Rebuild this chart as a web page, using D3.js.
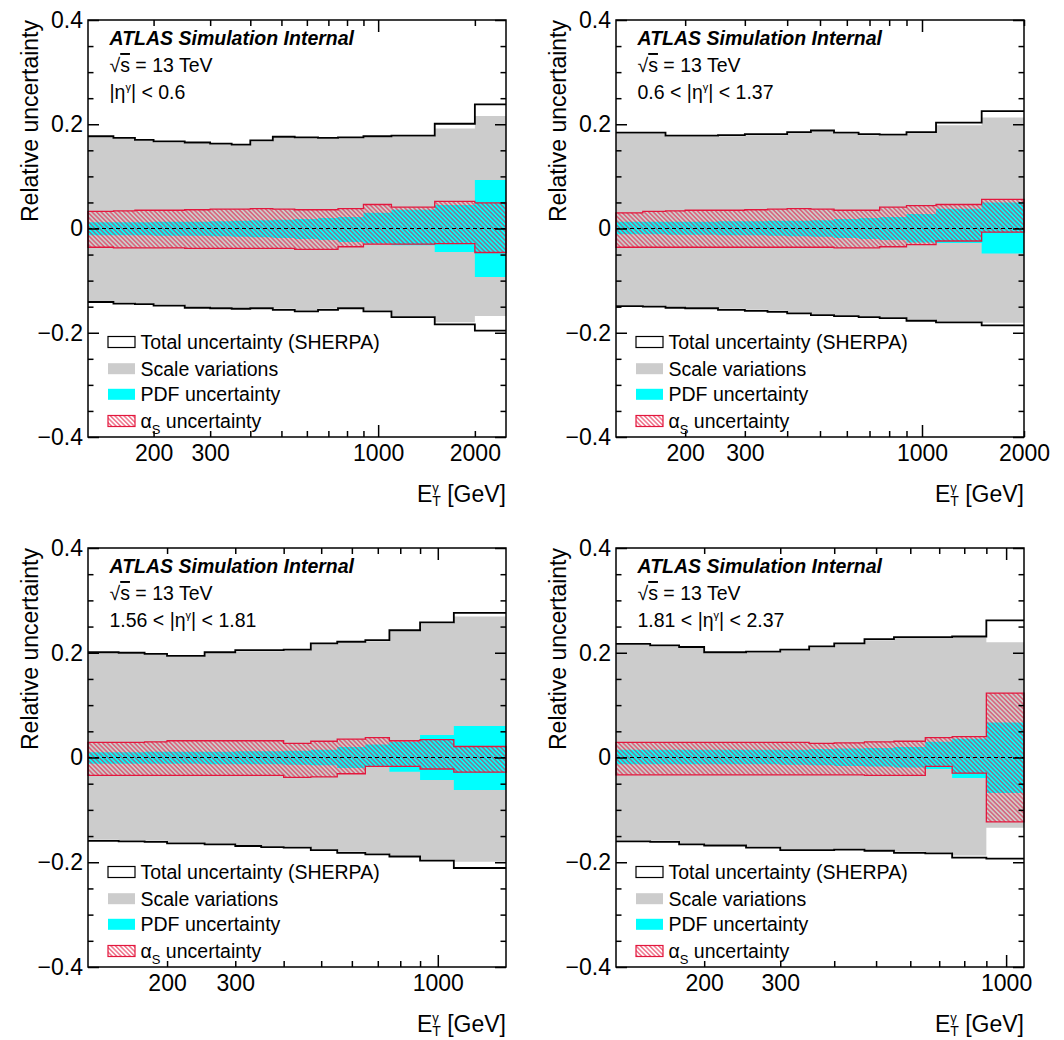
<!DOCTYPE html>
<html>
<head>
<meta charset="utf-8">
<script src="https://cdn.jsdelivr.net/npm/d3@7"></script>
<style>
body { margin:0; background:#ffffff; }
text { font-family:"Liberation Sans", Arial, Helvetica, sans-serif; fill:#000; }
</style>
</head>
<body>
<svg id="chart" width="1064" height="1040"></svg>
<script>
// E_T bin edges [GeV] for each eta region
var edgesA = [125,150,175,200,250,300,350,400,470,550,650,750,900,1100,1500,2000,2500];
var edgesB = [125,150,175,200,250,300,350,400,470,550,650,750,900,1100,1500,2000];
var edgesC = [125,150,175,200,250,300,350,400,470,550,650,750,900,1100,1500];
var edgesD = [125,150,175,200,250,300,350,400,470,550,650,750,900,1100];

// |eta| < 0.6
var totUpA   = [0.177,0.174,0.170,0.167,0.165,0.163,0.161,0.169,0.176,0.175,0.174,0.175,0.177,0.178,0.201,0.238];
var totDnA   = [-0.141,-0.144,-0.145,-0.148,-0.152,-0.153,-0.154,-0.153,-0.156,-0.159,-0.156,-0.153,-0.159,-0.170,-0.184,-0.196];
var scaleUpA = [0.175,0.172,0.168,0.165,0.163,0.161,0.159,0.167,0.174,0.173,0.172,0.173,0.175,0.176,0.192,0.216];
var scaleDnA = [-0.139,-0.142,-0.143,-0.146,-0.150,-0.151,-0.152,-0.151,-0.154,-0.157,-0.154,-0.151,-0.157,-0.168,-0.180,-0.168];
var pdfUpA   = [0.012,0.012,0.012,0.013,0.013,0.014,0.015,0.016,0.017,0.018,0.020,0.022,0.030,0.036,0.045,0.093];
var pdfDnA   = [-0.013,-0.013,-0.013,-0.014,-0.014,-0.015,-0.016,-0.017,-0.018,-0.020,-0.022,-0.026,-0.029,-0.032,-0.045,-0.093];
var asUpA    = [0.033,0.034,0.035,0.035,0.036,0.037,0.037,0.038,0.037,0.036,0.036,0.038,0.046,0.041,0.052,0.049];
var asDnA    = [-0.036,-0.037,-0.037,-0.037,-0.038,-0.038,-0.038,-0.038,-0.038,-0.040,-0.040,-0.035,-0.030,-0.030,-0.029,-0.046];

// 0.6 < |eta| < 1.37
var totUpB   = [0.184,0.184,0.178,0.178,0.179,0.181,0.181,0.185,0.188,0.184,0.181,0.180,0.185,0.203,0.225];
var totDnB   = [-0.149,-0.150,-0.152,-0.153,-0.156,-0.158,-0.160,-0.163,-0.166,-0.168,-0.170,-0.172,-0.177,-0.180,-0.186];
var scaleUpB = [0.182,0.182,0.176,0.176,0.177,0.179,0.179,0.183,0.186,0.182,0.179,0.178,0.183,0.198,0.213];
var scaleDnB = [-0.147,-0.148,-0.150,-0.151,-0.154,-0.156,-0.158,-0.161,-0.164,-0.166,-0.168,-0.170,-0.175,-0.178,-0.181];
var pdfUpB   = [0.013,0.013,0.013,0.013,0.014,0.014,0.015,0.015,0.016,0.018,0.020,0.022,0.028,0.038,0.050];
var pdfDnB   = [-0.011,-0.011,-0.012,-0.012,-0.013,-0.013,-0.014,-0.015,-0.016,-0.018,-0.020,-0.022,-0.027,-0.028,-0.048];
var asUpB    = [0.030,0.033,0.034,0.035,0.035,0.036,0.037,0.038,0.037,0.035,0.035,0.041,0.044,0.046,0.056];
var asDnB    = [-0.036,-0.036,-0.036,-0.036,-0.036,-0.036,-0.036,-0.036,-0.036,-0.037,-0.037,-0.035,-0.031,-0.024,-0.007];

// 1.56 < |eta| < 1.81
var totUpC   = [0.201,0.200,0.198,0.194,0.201,0.205,0.205,0.206,0.218,0.221,0.224,0.243,0.258,0.276];
var totDnC   = [-0.159,-0.160,-0.161,-0.164,-0.166,-0.169,-0.171,-0.172,-0.177,-0.182,-0.185,-0.189,-0.197,-0.211];
var scaleUpC = [0.199,0.198,0.196,0.192,0.199,0.203,0.203,0.204,0.216,0.219,0.222,0.241,0.256,0.269];
var scaleDnC = [-0.157,-0.158,-0.159,-0.162,-0.164,-0.167,-0.169,-0.170,-0.175,-0.180,-0.183,-0.187,-0.195,-0.199];
var pdfUpC   = [0.010,0.010,0.011,0.011,0.011,0.012,0.012,0.013,0.015,0.020,0.025,0.030,0.043,0.060];
var pdfDnC   = [-0.012,-0.012,-0.012,-0.012,-0.013,-0.013,-0.013,-0.014,-0.015,-0.020,-0.018,-0.027,-0.043,-0.062];
var asUpC    = [0.029,0.029,0.030,0.032,0.032,0.032,0.032,0.027,0.031,0.035,0.038,0.032,0.034,0.021];
var asDnC    = [-0.034,-0.034,-0.034,-0.034,-0.034,-0.034,-0.034,-0.038,-0.037,-0.031,-0.017,-0.017,-0.022,-0.028];

// 1.81 < |eta| < 2.37
var totUpD   = [0.217,0.214,0.211,0.201,0.202,0.206,0.212,0.218,0.226,0.230,0.230,0.231,0.262];
var totDnD   = [-0.160,-0.161,-0.166,-0.168,-0.172,-0.177,-0.177,-0.176,-0.178,-0.182,-0.183,-0.191,-0.193];
var scaleUpD = [0.215,0.212,0.209,0.199,0.200,0.204,0.210,0.216,0.224,0.228,0.228,0.229,0.220];
var scaleDnD = [-0.158,-0.159,-0.164,-0.166,-0.170,-0.175,-0.175,-0.174,-0.176,-0.180,-0.181,-0.187,-0.134];
var pdfUpD   = [0.015,0.015,0.015,0.015,0.015,0.015,0.016,0.017,0.018,0.020,0.030,0.036,0.067];
var pdfDnD   = [-0.013,-0.013,-0.013,-0.013,-0.013,-0.014,-0.015,-0.016,-0.017,-0.019,-0.022,-0.039,-0.068];
var asUpD    = [0.029,0.029,0.029,0.029,0.029,0.029,0.027,0.028,0.030,0.031,0.038,0.040,0.123];
var asDnD    = [-0.033,-0.033,-0.033,-0.033,-0.033,-0.033,-0.033,-0.033,-0.034,-0.034,-0.017,-0.030,-0.123];

// axis ticks and labels
var xLabelsWide   = [200,300,1000,2000];
var xLabelsNarrow = [200,300,1000];
var xMinorWide    = [200,300,400,500,600,700,800,900,2000];
var xMinorNarrow  = [200,300,400,500,600,700,800,900];
var xMajor        = [1000];
var yMajor        = [-0.4,-0.2,0,0.2,0.4];
var yMinor        = [-0.35,-0.3,-0.25,-0.15,-0.1,-0.05,0.05,0.1,0.15,0.25,0.3,0.35];

var etaLow  = ["", "0.6 < ", "1.56 < ", "1.81 < "];
var etaHigh = [" < 0.6", " < 1.37", " < 1.81", " < 2.37"];
var legendNames = ["Total uncertainty (SHERPA)", "Scale variations", "PDF uncertainty", "uncertainty"];

var GREY = "#cccccc", CYAN = "#00ffff", RED = "#e3173d";

var svg = d3.select("#chart");

// hatch for the alpha_s band
svg.append("defs").append("pattern")
    .attr("id","hatch")
    .attr("patternUnits","userSpaceOnUse")
    .attr("width",3.2)
    .attr("height",3.2)
    .attr("patternTransform","rotate(45)")
  .append("line")
    .attr("x1",0).attr("x2",3.2)
    .attr("y1",1.6).attr("y2",1.6)
    .attr("stroke",RED)
    .attr("stroke-width",0.9);

//turn bin values into step points (two per bin)
var stepPoints = function(edges,lo,hi)
{
    var pts = [];
    for (var i = 0; i < lo.length; i++)
    {
        pts.push({e:edges[i],lo:lo[i],hi:hi[i]});
        pts.push({e:edges[i+1],lo:lo[i],hi:hi[i]});
    }
    return pts;
}

var fmtY = function(v)
{
    if (v == 0) return "0";
    return (v < 0 ? "\u2212" : "") + Math.abs(v).toFixed(1);
}

var drawPanel = function(p,idx)
{
    var box = p.box;
    var xScale = d3.scaleLog()
        .domain([p.edges[0], p.edges[p.edges.length-1]])
        .range([box.left, box.right]);
    var yScale = d3.scaleLinear()
        .domain([-0.4,0.4])
        .range([box.bottom, box.top]);

    var g = svg.append("g");

    var area = d3.area()
        .x(function(d){ return xScale(d.e); })
        .y0(function(d){ return yScale(d.lo); })
        .y1(function(d){ return yScale(d.hi); });
    var lineUp = d3.line()
        .x(function(d){ return xScale(d.e); })
        .y(function(d){ return yScale(d.hi); });
    var lineDn = d3.line()
        .x(function(d){ return xScale(d.e); })
        .y(function(d){ return yScale(d.lo); });

    // bands
    g.append("path")
        .datum(stepPoints(p.edges,p.scaleDn,p.scaleUp))
        .attr("d",area)
        .attr("fill",GREY);
    g.append("path")
        .datum(stepPoints(p.edges,p.pdfDn,p.pdfUp))
        .attr("d",area)
        .attr("fill",CYAN);
    g.append("path")
        .datum(stepPoints(p.edges,p.asDn,p.asUp))
        .attr("d",area)
        .attr("fill","url(#hatch)")
        .attr("stroke",RED)
        .attr("stroke-width",1.3);

    // total uncertainty envelope
    var tot = stepPoints(p.edges,p.totDn,p.totUp);
    g.append("path").datum(tot).attr("d",lineUp)
        .attr("fill","none").attr("stroke","#000").attr("stroke-width",1.8);
    g.append("path").datum(tot).attr("d",lineDn)
        .attr("fill","none").attr("stroke","#000").attr("stroke-width",1.8);

    // zero line
    g.append("line")
        .attr("x1",box.left).attr("x2",box.right)
        .attr("y1",yScale(0)).attr("y2",yScale(0))
        .attr("stroke","#000").attr("stroke-width",1)
        .attr("stroke-dasharray","4,3");

    // frame
    g.append("rect")
        .attr("x",box.left).attr("y",box.top)
        .attr("width",box.right-box.left).attr("height",box.bottom-box.top)
        .attr("fill","none").attr("stroke","#000").attr("stroke-width",1.5);

    var axisStyle = function(sel)
    {
        sel.select(".domain").remove();
        sel.selectAll("line").attr("stroke","#000").attr("stroke-width",1.5);
        sel.selectAll("text").style("font-size","23px").attr("fill","#000");
    }

    // y ticks, both sides, pointing inward
    g.append("g").attr("transform","translate("+box.left+",0)")
        .call(d3.axisLeft(yScale).tickValues(yMajor).tickSize(-11).tickPadding(5).tickFormat(fmtY))
        .call(axisStyle);
    g.append("g").attr("transform","translate("+box.left+",0)")
        .call(d3.axisLeft(yScale).tickValues(yMinor).tickSize(-5.5).tickFormat(""))
        .call(axisStyle);
    g.append("g").attr("transform","translate("+box.right+",0)")
        .call(d3.axisRight(yScale).tickValues(yMajor).tickSize(-11).tickFormat(""))
        .call(axisStyle);
    g.append("g").attr("transform","translate("+box.right+",0)")
        .call(d3.axisRight(yScale).tickValues(yMinor).tickSize(-5.5).tickFormat(""))
        .call(axisStyle);

    // x ticks, bottom and top
    g.append("g").attr("transform","translate(0,"+box.bottom+")")
        .call(d3.axisBottom(xScale).tickValues(p.minor).tickSize(-6).tickFormat(""))
        .call(axisStyle);
    g.append("g").attr("transform","translate(0,"+box.bottom+")")
        .call(d3.axisBottom(xScale).tickValues(xMajor).tickSize(-12).tickFormat(""))
        .call(axisStyle);
    g.append("g").attr("transform","translate(0,"+box.bottom+")")
        .call(d3.axisBottom(xScale).tickValues(p.labels).tickSize(0).tickPadding(8).tickFormat(d3.format("d")))
        .call(axisStyle);
    g.append("g").attr("transform","translate(0,"+box.top+")")
        .call(d3.axisTop(xScale).tickValues(p.minor).tickSize(-6).tickFormat(""))
        .call(axisStyle);
    g.append("g").attr("transform","translate(0,"+box.top+")")
        .call(d3.axisTop(xScale).tickValues(xMajor).tickSize(-12).tickFormat(""))
        .call(axisStyle);

    // axis titles
    g.append("text")
        .text("Relative uncertainty")
        .attr("text-anchor","end")
        .style("font-size","23px")
        .attr("transform","translate("+(box.left-50.5)+","+box.top+") rotate(-90)");

    var xt = g.append("text")
        .attr("text-anchor","end")
        .attr("x",box.right)
        .attr("y",box.bottom+65)
        .style("font-size","23px");
    xt.append("tspan").text("E");
    xt.append("tspan").text("\u03B3").style("font-size","13px").attr("dy",-10);
    xt.append("tspan").text("T").style("font-size","14px").attr("dx",-6.5).attr("dy",14);
    xt.append("tspan").text(" [GeV]").attr("dy",-4);

    // labels
    var tx = box.left + 21.5;
    g.append("text")
        .text("ATLAS Simulation Internal")
        .attr("x",tx).attr("y",box.top+25)
        .style("font-size","19.5px")
        .style("font-weight","bold")
        .style("font-style","italic");

    var rs = g.append("text")
        .attr("x",tx).attr("y",box.top+52)
        .style("font-size","19.5px");
    rs.append("tspan").text("\u221A");
    rs.append("tspan").text("s").style("text-decoration","overline");
    rs.append("tspan").text(" = 13 TeV");

    var eta = g.append("text")
        .attr("x",tx).attr("y",box.top+79)
        .style("font-size","19.5px");
    eta.append("tspan").text(etaLow[idx] + "|\u03B7");
    eta.append("tspan").text("\u03B3").style("font-size","11px").attr("dy",-8);
    eta.append("tspan").text("|" + etaHigh[idx]).attr("dy",8);

    // legend
    var lx = box.left + 20, lw = 27, lh = 11;
    var rows = [95,68.3,42.7,16];
    var fills = ["#ffffff",GREY,CYAN,"url(#hatch)"];
    var strokes = ["#000","none","none",RED];
    var leg = g.append("g").classed("legend",true);
    leg.selectAll("rect")
        .data(rows)
        .enter()
        .append("rect")
        .attr("x",lx)
        .attr("y",function(r){ return box.bottom - r - lh/2; })
        .attr("width",lw)
        .attr("height",lh)
        .attr("fill",function(r,i){ return fills[i]; })
        .attr("stroke",function(r,i){ return strokes[i]; })
        .attr("stroke-width",1.2);
    rows.forEach(function(r,i)
    {
        var t = leg.append("text")
            .attr("x",box.left+52.5)
            .attr("y",box.bottom - r + 6.8)
            .style("font-size","19.5px");
        if (i == 3)
        {
            t.append("tspan").text("\u03B1");
            t.append("tspan").text("S").style("font-size","13px").attr("dy",6);
            t.append("tspan").text(" " + legendNames[i]).attr("dy",-6);
        }
        else
        {
            t.text(legendNames[i]);
        }
    });
}

var panels = [
    {edges:edgesA, totUp:totUpA, totDn:totDnA, scaleUp:scaleUpA, scaleDn:scaleDnA,
     pdfUp:pdfUpA, pdfDn:pdfDnA, asUp:asUpA, asDn:asDnA,
     labels:xLabelsWide, minor:xMinorWide, box:{left:88,right:506,top:20,bottom:437}},
    {edges:edgesB, totUp:totUpB, totDn:totDnB, scaleUp:scaleUpB, scaleDn:scaleDnB,
     pdfUp:pdfUpB, pdfDn:pdfDnB, asUp:asUpB, asDn:asDnB,
     labels:xLabelsWide, minor:xMinorWide, box:{left:616,right:1024,top:20,bottom:437}},
    {edges:edgesC, totUp:totUpC, totDn:totDnC, scaleUp:scaleUpC, scaleDn:scaleDnC,
     pdfUp:pdfUpC, pdfDn:pdfDnC, asUp:asUpC, asDn:asDnC,
     labels:xLabelsNarrow, minor:xMinorNarrow, box:{left:88,right:506,top:548,bottom:967}},
    {edges:edgesD, totUp:totUpD, totDn:totDnD, scaleUp:scaleUpD, scaleDn:scaleDnD,
     pdfUp:pdfUpD, pdfDn:pdfDnD, asUp:asUpD, asDn:asDnD,
     labels:xLabelsNarrow, minor:xMinorNarrow, box:{left:616,right:1024,top:548,bottom:967}}
];

panels.forEach(drawPanel);
</script>
</body>
</html>
